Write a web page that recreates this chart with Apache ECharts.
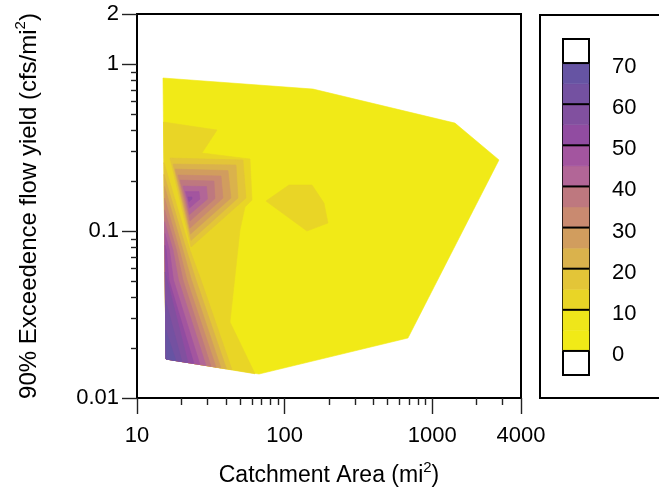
<!DOCTYPE html>
<html><head><meta charset="utf-8">
<script src="https://cdn.jsdelivr.net/npm/echarts@6/dist/echarts.min.js"></script>
<style>html,body{margin:0;padding:0;background:#fff}#c{width:659px;height:502px}</style>
</head><body><div id="c"></div>
<script>
// ---- contour band polygons, vertices as [catchment area mi2, yield cfs/mi2] ----
const G = [15.72, 0.01713];
const hull = [[15.0,0.827],[155.8,0.710],[1427,0.444],[2836,0.267],[685.5,0.02288],[67.08,0.01392],G];
const band10a = [[15.12,0.4504],[34.84,0.4034],[27.56,0.2937],[58.31,0.2704],[60.15,0.1535],[53.91,0.1394],[49.87,0.1015],[42.67,0.0285],[63.04,0.01397],G];
const band10b = [[74.80,0.1514],[107.1,0.1888],[153.4,0.1888],[184.9,0.1474],[196.8,0.1118],[141.8,0.1001]];
const peak15 = [[16.74,0.2742],[52.26,0.2667],[54.76,0.1579],[23.22,0.0803]];
const peak20 = [[17.54,0.2524],[46.86,0.2489],[48.34,0.1579],[23.22,0.0879]];
const peak25 = [[18.10,0.2355],[41.36,0.2307],[43.34,0.1579],[23.04,0.0961]];
const peak30 = [[18.96,0.2168],[37.08,0.2139],[38.26,0.1579],[22.86,0.1043]];
const peak35 = [[19.56,0.2023],[33.24,0.1995],[33.77,0.1568],[22.86,0.1149]];
const peak40 = [[20.50,0.1863],[29.57,0.1850],[30.03,0.1557],[22.68,0.1258]];
const peak45 = [[21.31,0.1727],[26.30,0.1727],[26.72,0.1557],[22.68,0.1375]];
const peak50 = [[22.16,0.1601],[23.58,0.1601],[23.58,0.1557],[22.50,0.1504]];
const wedge15 = [[15.24,0.2571],[22.86,0.0770],[27.14,0.0509],[44.00,0.01478],G];
const wedge20 = [[15.24,0.2185],[21.64,0.0770],[25.10,0.0509],[40.38,0.01495],G];
const wedge25 = [[15.36,0.1856],[20.49,0.0770],[23.40,0.0509],[37.08,0.01514],G];
const wedge30 = [[15.36,0.1577],[19.40,0.0770],[21.81,0.0509],[34.30,0.01531],G];
const wedge35 = [[15.36,0.1340],[18.52,0.0770],[20.49,0.0509],[31.72,0.01548],G];
const wedge40 = [[15.36,0.1139],[17.54,0.0770],[19.10,0.0509],[29.34,0.01565],G];
const wedge45 = [[15.48,0.0967],[16.60,0.0770],[17.67,0.0509],[26.72,0.01586],G];
const wedge50 = [[15.48,0.0822],[15.79,0.0770],[16.47,0.0509],[24.33,0.01608],G];
const wedge55 = [[15.52,0.05686],[22.16,0.01629],G];
const wedge60 = [[15.60,0.03863],[20.18,0.01651],G];
const wedge65 = [[15.65,0.02553],[18.37,0.01673],G];

// ---- levels / colours / ticks ----
const levels = [0,5,10,15,20,25,30,35,40,45,50,55,60,65];
const levelColors = ['#F1EA17','#EFE61A','#E9D526','#E3C538','#DAB24C','#D19D5E','#C98A70','#BE787F','#B26697','#A3559F','#914CA1','#81509F','#7451A1','#6654A3'];
const legendTicks = [0,10,20,30,40,50,60,70];
const xMajor = [10,100,1000,4000];
const xMinor = [20,30,40,50,60,70,80,90,200,300,400,500,600,700,800,900,2000,3000];
const yMajor = [0.01,0.1,1,2];
const yMinor = [0.02,0.03,0.04,0.05,0.06,0.07,0.08,0.09,0.2,0.3,0.4,0.5,0.6,0.7,0.8,0.9];

const polys = [
  [0,hull],[10,band10a],[10,band10b],
  [15,peak15],[15,wedge15],[20,peak20],[20,wedge20],[25,peak25],[25,wedge25],
  [30,peak30],[30,wedge30],[35,peak35],[35,wedge35],[40,peak40],[40,wedge40],
  [45,peak45],[45,wedge45],[50,peak50],[50,wedge50],[55,wedge55],[60,wedge60],[65,wedge65]
];
const colorOf = lv => levelColors[levels.indexOf(lv)];

const FONT = 'Liberation Sans, Arial, sans-serif';
const fmt = v => String(+(+v).toPrecision(6));
const richFor = size => ({
  m:{fontSize:size, lineHeight:size+1, padding:[7,0,0,0], color:'#000', fontFamily:FONT},
  s:{fontSize:15, lineHeight:16, verticalAlign:'top', color:'#000', fontFamily:FONT}
});

const chart = echarts.init(document.getElementById('c'), null, {renderer:'canvas'});
chart.setOption({
  animation:false,
  backgroundColor:'#fff',
  textStyle:{fontFamily:FONT},
  graphic:[{type:'rect', shape:{x:540,y:15,width:200,height:383}, style:{fill:'none', stroke:'#000', lineWidth:2}, z:1}],
  grid:[
    {left:137, top:14, width:384, height:384, show:true, borderColor:'#000', borderWidth:2, backgroundColor:'transparent'},
    {left:563, top:39, width:26, height:336, show:true, borderColor:'#000', borderWidth:2, backgroundColor:'#fff'}
  ],
  xAxis:[
    {type:'log', logBase:10, min:10, max:4000, gridIndex:0, position:'bottom',
     axisLine:{show:true, lineStyle:{color:'#000', width:2}},
     axisTick:{show:true, customValues:xMajor, length:16, lineStyle:{color:'#222', width:1.4}},
     axisLabel:{customValues:xMajor, formatter:fmt, margin:27, fontSize:22, color:'#000', fontFamily:FONT},
     splitLine:{show:false}, minorTick:{show:false},
     name:'{m|Catchment Area (mi}{s|2}{m|)}', nameLocation:'middle', nameGap:62,
     nameTextStyle:{rich:richFor(23)}},
    {type:'log', logBase:10, min:10, max:4000, gridIndex:0, position:'bottom',
     axisLine:{show:false}, axisLabel:{show:false}, splitLine:{show:false},
     axisTick:{show:true, customValues:xMinor, length:7, lineStyle:{color:'#222', width:1.4}}},
    {type:'value', min:0, max:1, gridIndex:1, show:false}
  ],
  yAxis:[
    {type:'log', logBase:10, min:0.01, max:2, gridIndex:0, position:'left',
     axisLine:{show:true, lineStyle:{color:'#000', width:2}},
     axisTick:{show:true, customValues:yMajor, length:15, lineStyle:{color:'#222', width:1.4}},
     axisLabel:{customValues:yMajor, formatter:fmt, margin:18, fontSize:22, color:'#000', fontFamily:FONT},
     splitLine:{show:false}, minorTick:{show:false},
     name:'{m|90% Exceedence flow yield (cfs/mi}{s|2}{m|)}', nameLocation:'middle', nameGap:99,
     nameTextStyle:{rich:richFor(24)}},
    {type:'log', logBase:10, min:0.01, max:2, gridIndex:0, position:'left',
     axisLine:{show:false}, axisLabel:{show:false}, splitLine:{show:false},
     axisTick:{show:true, customValues:yMinor, length:6, lineStyle:{color:'#222', width:1.4}}},
    {type:'value', min:-5.85, max:75.85, gridIndex:1, position:'right',
     axisLine:{show:false}, axisTick:{show:false}, splitLine:{show:false},
     axisLabel:{customValues:legendTicks, margin:23, fontSize:22, color:'#000', fontFamily:FONT,
                verticalAlign:'top', lineHeight:8}}
  ],
  series:[
    {type:'custom', coordinateSystem:'cartesian2d', xAxisIndex:0, yAxisIndex:0, silent:true, z:2,
     data: polys.map(p => [p[1][0][0], p[1][0][1], p[0]]),
     renderItem:(params, api) => {
       const p = polys[params.dataIndex];
       const c = colorOf(p[0]);
       return {type:'polygon', shape:{points:p[1].map(v => api.coord(v))},
               style:{fill:c, stroke:c, lineWidth:0.6}};
     }},
    {type:'custom', coordinateSystem:'cartesian2d', xAxisIndex:2, yAxisIndex:2, silent:true, z:2,
     data: levels.map(l => [0, l]),
     renderItem:(params, api) => {
       const l = levels[params.dataIndex];
       const a = api.coord([0, l + 5]), b = api.coord([1, l]);
       return {type:'rect', shape:{x:a[0], y:a[1], width:b[0]-a[0], height:b[1]-a[1]},
               style:{fill:levelColors[params.dataIndex], stroke:levelColors[params.dataIndex], lineWidth:0.5}};
     }},
    {type:'custom', coordinateSystem:'cartesian2d', xAxisIndex:2, yAxisIndex:2, silent:true, z:3,
     data: legendTicks.map(t => [0, t]),
     renderItem:(params, api) => {
       const t = legendTicks[params.dataIndex];
       const a = api.coord([0, t]), b = api.coord([1, t]);
       return {type:'line', shape:{x1:a[0], y1:a[1], x2:b[0], y2:b[1]}, style:{stroke:'#000', lineWidth:2}};
     }}
  ]
});
</script></body></html>
